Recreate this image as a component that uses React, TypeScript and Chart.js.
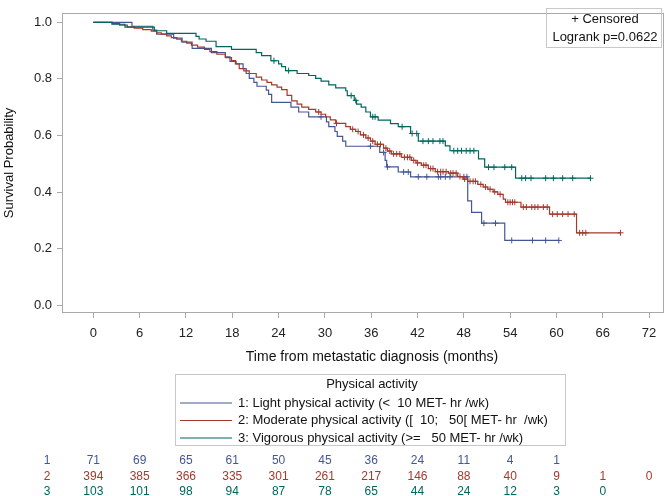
import React, { useEffect, useRef } from 'react';
import { Chart, registerables } from 'chart.js';

Chart.register(...registerables);

// ---------- data ----------
const X_TICKS = [0, 6, 12, 18, 24, 30, 36, 42, 48, 54, 60, 66, 72];
const Y_TICKS = [0, 0.2, 0.4, 0.6, 0.8, 1.0];

const GROUP_NAMES = ['1', '2', '3'];
const GROUP_LABELS = [
  '1: Light physical activity (<  10 MET- hr /wk)',
  '2: Moderate physical activity ([  10;   50[ MET- hr  /wk)',
  '3: Vigorous physical activity (>=   50 MET- hr /wk)',
];
const COLORS = ['#445694', '#A23A2E', '#01665E'];

// Group 1: light activity
const G1_TIME = [0, 5.0, 7.7, 8.2, 10.4, 11.5, 12.8, 15.3, 17.1, 17.7, 18.5, 19.4, 19.8, 20.2, 20.8, 21.2, 22.4, 22.7, 23.1, 25.6, 26.6, 27.9, 30.2, 30.5, 31.3, 31.6, 32.3, 32.7, 37.1, 37.8, 38.0, 39.5, 41.1, 48.5, 49.0, 50.3, 53.3];
const G1_SURV = [1.0, 0.986, 0.972, 0.958, 0.944, 0.930, 0.908, 0.893, 0.878, 0.862, 0.853, 0.836, 0.819, 0.802, 0.788, 0.774, 0.760, 0.745, 0.717, 0.700, 0.683, 0.666, 0.648, 0.631, 0.614, 0.597, 0.580, 0.562, 0.540, 0.512, 0.489, 0.471, 0.454, 0.369, 0.328, 0.290, 0.229];
const G1_END = 60.3;
const G1_CENSOR = [29.5, 35.9, 37.6, 38.1, 40.2, 40.8, 42.1, 43.2, 44.7, 45.0, 45.6, 46.2, 48.0, 48.4, 50.6, 52.1, 54.2, 56.9, 58.6, 60.3];

// Group 2: moderate activity
const G2_TIME = [0, 2.5, 3.4, 4.4, 5.3, 6.4, 7.5, 8.2, 8.8, 9.5, 10.1, 10.8, 11.4, 12.1, 12.7, 13.5, 14.4, 15.1, 16.0, 17.1, 17.9, 18.4, 18.9, 19.5, 20.2, 21.1, 21.8, 22.5, 23.1, 23.8, 24.4, 25.1, 25.7, 26.4, 27.0, 27.9, 28.8, 29.5, 30.1, 30.7, 31.4, 32.7, 33.3, 34.0, 34.6, 35.3, 35.9, 36.5, 37.6, 38.1, 38.6, 39.9, 41.2, 41.8, 42.5, 43.4, 44.3, 46.0, 47.2, 47.9, 48.5, 49.8, 50.5, 51.1, 51.8, 52.4, 53.1, 53.4, 55.4, 59.1, 62.6];
const G2_SURV = [1.0, 0.995, 0.990, 0.984, 0.979, 0.974, 0.969, 0.963, 0.958, 0.952, 0.946, 0.940, 0.933, 0.926, 0.919, 0.912, 0.904, 0.896, 0.887, 0.875, 0.865, 0.853, 0.836, 0.828, 0.819, 0.806, 0.796, 0.788, 0.779, 0.771, 0.762, 0.742, 0.722, 0.711, 0.700, 0.692, 0.683, 0.675, 0.666, 0.655, 0.643, 0.631, 0.622, 0.614, 0.602, 0.591, 0.580, 0.569, 0.555, 0.545, 0.535, 0.523, 0.512, 0.503, 0.495, 0.483, 0.472, 0.467, 0.455, 0.446, 0.438, 0.427, 0.418, 0.410, 0.401, 0.392, 0.375, 0.364, 0.347, 0.322, 0.256];
const G2_END = 68.3;
const G2_CENSOR = [29.2, 31.5, 33.6, 34.3, 35.0, 35.6, 36.2, 36.8, 37.2, 37.9, 38.4, 38.9, 39.3, 39.7, 40.3, 40.7, 41.0, 41.5, 42.0, 42.8, 43.1, 43.7, 44.0, 44.6, 45.0, 45.3, 45.7, 46.3, 46.6, 47.0, 47.5, 48.1, 48.8, 49.2, 49.5, 50.2, 50.8, 51.4, 52.0, 52.7, 53.7, 54.0, 54.3, 54.6, 55.7, 56.1, 56.8, 57.2, 57.6, 58.3, 58.8, 59.5, 60.1, 60.8, 61.5, 62.3, 63.0, 63.4, 63.8, 68.3];

// Group 3: vigorous activity
const G3_TIME = [0, 2.4, 4.1, 7.9, 9.5, 13.3, 13.7, 14.6, 15.9, 17.9, 21.1, 21.8, 23.0, 24.0, 24.4, 24.9, 26.4, 27.9, 28.8, 29.5, 30.5, 31.4, 32.7, 32.9, 33.8, 34.1, 34.7, 35.3, 35.9, 36.9, 38.5, 39.5, 41.1, 42.1, 45.6, 46.2, 49.9, 50.7, 54.7];
const G3_SURV = [1.0, 0.993, 0.983, 0.970, 0.961, 0.950, 0.941, 0.933, 0.914, 0.904, 0.893, 0.882, 0.864, 0.853, 0.843, 0.829, 0.819, 0.812, 0.802, 0.792, 0.779, 0.768, 0.758, 0.741, 0.724, 0.711, 0.700, 0.683, 0.666, 0.654, 0.642, 0.631, 0.607, 0.580, 0.563, 0.546, 0.517, 0.488, 0.449];
const G3_END = 64.4;
const G3_CENSOR = [23.4, 25.3, 33.4, 34.0, 36.2, 36.5, 40.0, 41.3, 41.9, 42.7, 43.4, 44.0, 44.9, 45.3, 46.7, 47.2, 47.7, 48.3, 48.8, 49.3, 51.2, 51.9, 53.3, 54.2, 55.5, 56.0, 56.7, 58.6, 59.6, 60.8, 62.1, 64.4];

// Numbers at risk at each x tick
const RISK_1 = [71, 69, 65, 61, 50, 45, 36, 24, 11, 4, 1];
const RISK_2 = [394, 385, 366, 335, 301, 261, 217, 146, 88, 40, 9, 1, 0];
const RISK_3 = [103, 101, 98, 94, 87, 78, 65, 44, 24, 12, 3, 0];

const CENSOR_LABEL = '+ Censored';
const LOGRANK_LABEL = 'Logrank p=0.0622';
const LEGEND_TITLE = 'Physical activity';
const X_TITLE = 'Time from metastatic diagnosis (months)';
const Y_TITLE = 'Survival Probability';

// ---------- helpers ----------
const FONT = "'Liberation Sans', Arial, sans-serif";
const FRAME = '#a9a9a9';

function stepAt(times: number[], surv: number[], t: number) {
  let s = surv[0];
  for (let i = 0; i < times.length; i++) if (times[i] <= t) s = surv[i];
  return s;
}

function curve(times: number[], surv: number[], end: number) {
  const pts = times.map((t, i) => ({ x: t, y: surv[i] }));
  pts.push({ x: end, y: surv[surv.length - 1] });
  return pts;
}

function censors(times: number[], surv: number[], cens: number[]) {
  return cens.map((t) => ({ x: t, y: stepAt(times, surv, t) }));
}

const overlay = {
  id: 'kmOverlay',
  afterDraw(chart: any) {
    const { ctx, chartArea: a } = chart;
    const xs = chart.scales.x;
    ctx.save();
    // frame
    ctx.strokeStyle = FRAME;
    ctx.lineWidth = 1;
    ctx.strokeRect(Math.round(a.left) + 0.5, Math.round(a.top) + 0.5, Math.round(a.right - a.left) - 1, Math.round(a.bottom - a.top) - 1);

    // x axis title
    ctx.fillStyle = '#111';
    ctx.font = `14px ${FONT}`;
    ctx.textAlign = 'center';
    ctx.textBaseline = 'middle';
    ctx.fillText(X_TITLE, 372, 357);

    // censored / logrank box
    ctx.strokeStyle = '#c8c8c8';
    ctx.strokeRect(546.5, 8.5, 115, 39);
    ctx.font = `13px ${FONT}`;
    ctx.fillText(CENSOR_LABEL, 605, 19);
    ctx.fillText(LOGRANK_LABEL, 605, 37);

    // bottom legend
    ctx.strokeStyle = '#c8c8c8';
    ctx.strokeRect(175.5, 374.5, 390, 71);
    ctx.fillStyle = '#111';
    ctx.fillText(LEGEND_TITLE, 372, 384);
    const rowY = [403, 420.5, 438];
    ctx.textAlign = 'left';
    GROUP_LABELS.forEach((lab, i) => {
      ctx.strokeStyle = COLORS[i];
      ctx.lineWidth = 1.2;
      ctx.beginPath();
      ctx.moveTo(180, rowY[i]);
      ctx.lineTo(232, rowY[i]);
      ctx.stroke();
      ctx.fillStyle = '#111';
      ctx.fillText(lab, 238, rowY[i]);
    });

    // at-risk table
    const risks = [RISK_1, RISK_2, RISK_3];
    const tableY = [461, 477, 492];
    ctx.font = `12px ${FONT}`;
    ctx.textAlign = 'center';
    risks.forEach((row, i) => {
      ctx.fillStyle = COLORS[i];
      ctx.fillText(GROUP_NAMES[i], 47, tableY[i]);
      row.forEach((n, j) => {
        ctx.fillText(String(n), xs.getPixelForValue(X_TICKS[j]), tableY[i]);
      });
    });
    ctx.restore();
  },
};

export default function App() {
  const ref = useRef<HTMLCanvasElement | null>(null);

  useEffect(() => {
    if (!ref.current) return;
    const lineDs = (times: number[], surv: number[], end: number, color: string) => ({
      type: 'line' as const,
      data: curve(times, surv, end),
      stepped: 'before' as const,
      borderColor: color,
      borderWidth: 1.2,
      pointRadius: 0,
      fill: false,
      showLine: true,
    });
    const censDs = (times: number[], surv: number[], cens: number[], color: string) => ({
      type: 'scatter' as const,
      data: censors(times, surv, cens),
      pointStyle: 'cross',
      pointRadius: 3,
      borderColor: color,
      backgroundColor: color,
      borderWidth: 1,
      showLine: false,
    });

    const chart = new Chart(ref.current, {
      type: 'scatter',
      data: {
        datasets: [
          censDs(G3_TIME, G3_SURV, G3_CENSOR, COLORS[2]),
          lineDs(G3_TIME, G3_SURV, G3_END, COLORS[2]),
          censDs(G2_TIME, G2_SURV, G2_CENSOR, COLORS[1]),
          lineDs(G2_TIME, G2_SURV, G2_END, COLORS[1]),
          censDs(G1_TIME, G1_SURV, G1_CENSOR, COLORS[0]),
          lineDs(G1_TIME, G1_SURV, G1_END, COLORS[0]),
        ] as any,
      },
      options: {
        animation: false,
        responsive: false,
        layout: { padding: { top: 2, right: 2, bottom: 132, left: 0 } },
        plugins: { legend: { display: false }, tooltip: { enabled: false } },
        scales: {
          x: {
            type: 'linear',
            min: -4.06,
            max: 73.93,
            afterBuildTicks: (axis: any) => {
              axis.ticks = X_TICKS.map((v) => ({ value: v }));
            },
            afterFit: (axis: any) => {
              axis.height = 51;
            },
            border: { display: false },
            grid: { drawOnChartArea: false, drawTicks: true, tickLength: 5, color: FRAME },
            ticks: { padding: 8, color: '#222', font: { family: FONT, size: 13 }, maxRotation: 0, autoSkip: false },
            title: { display: false },
          },
          y: {
            type: 'linear',
            min: -0.0273,
            max: 1.0335,
            afterBuildTicks: (axis: any) => {
              axis.ticks = Y_TICKS.map((v) => ({ value: v }));
            },
            afterFit: (axis: any) => {
              axis.width = 62;
            },
            border: { display: false },
            grid: { drawOnChartArea: false, drawTicks: true, tickLength: 5, color: FRAME },
            ticks: { padding: 5, color: '#222', font: { family: FONT, size: 13 }, callback: (v: any) => Number(v).toFixed(1) },
            title: { display: true, text: Y_TITLE, color: '#111', font: { family: FONT, size: 13 }, padding: { top: 2, bottom: 0 } },
          },
        },
      },
      plugins: [overlay],
    } as any);
    return () => chart.destroy();
  }, []);

  return (
    <div style={{ position: 'fixed', left: 0, top: 0, width: 669, height: 496, background: '#fff' }}>
      <canvas ref={ref} width={669} height={496} style={{ display: 'block' }} />
    </div>
  );
}
